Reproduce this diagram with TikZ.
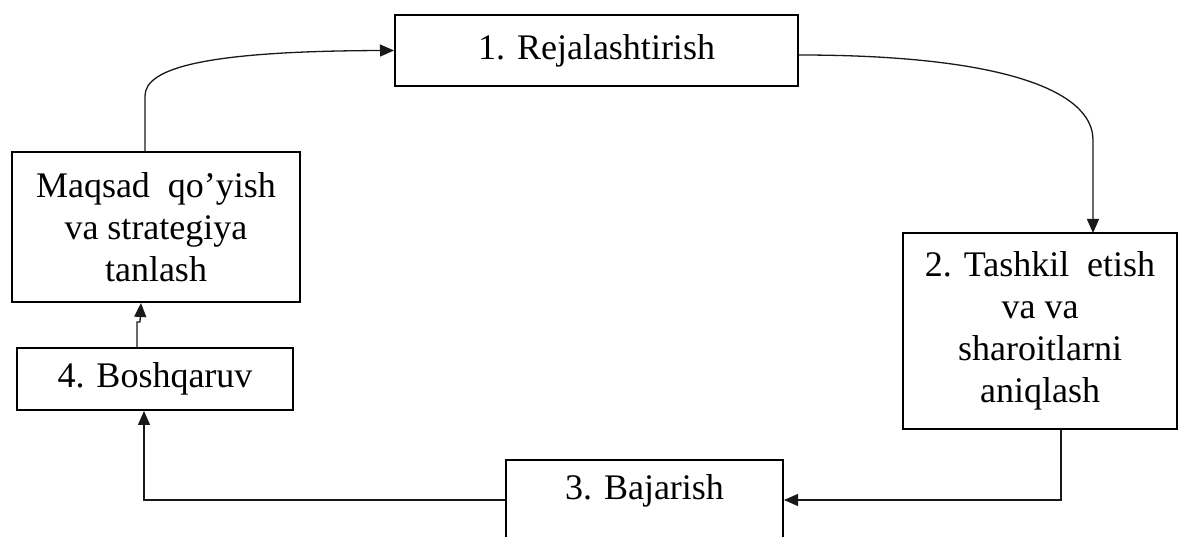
\documentclass[tikz,border=0pt]{standalone}
\usepackage{fontspec}
\setmainfont{Liberation Serif}
\usetikzlibrary{arrows.meta}
\begin{document}
\begin{tikzpicture}[x=1pt,y=-1pt,
  box/.style={draw=black, line width=2pt, rectangle, inner sep=0pt, align=center,
    font=\fontsize{36}{42}\selectfont},
  conn/.style={draw=black!90, line width=1.3pt, -{Triangle[length=14pt,width=12pt]}}]
\useasboundingbox (0,0) rectangle (1179,537);
\clip (0,0) rectangle (1179,537);
\node[box, minimum width=403pt, minimum height=71pt] (b1) at (596.5,50.5) {1. Rejalashtirish};
\node[box, minimum width=288pt, minimum height=150pt] (mq) at (156,227) {Maqsad\ \ qo’yish\\va strategiya\\tanlash};
\node[box, minimum width=276pt, minimum height=62pt] (b4) at (155,379) {4. Boshqaruv};
\node[box, minimum width=274pt, minimum height=196pt] (b2) at (1040,331) {2. Tashkil\ \ etish\\va va\\sharoitlarni\\aniqlash};
\node[box, minimum width=277pt, text height=40pt, text depth=40pt] (b3) at (644.5,500) {3. Bajarish};
\draw[conn] ([xshift=-11pt]mq.north) -- ++(0,-55) .. controls (145,68) and (205,51) .. (b1.west);
\draw[conn] ([yshift=-4.5pt]b1.east) .. controls (1000,55) and (1093,90) .. (1093,140) -- (1093,233);
\draw[conn] ([xshift=21pt]b2.south) |- (b3.east);
\draw[conn] (b3.west) -| ([xshift=-11pt]b4.south);
\draw[conn] ([xshift=-18pt]b4.north) -- ++(0,-25) -- ++(3,0) -- ([xshift=-15pt]mq.south);
\end{tikzpicture}
\end{document}
